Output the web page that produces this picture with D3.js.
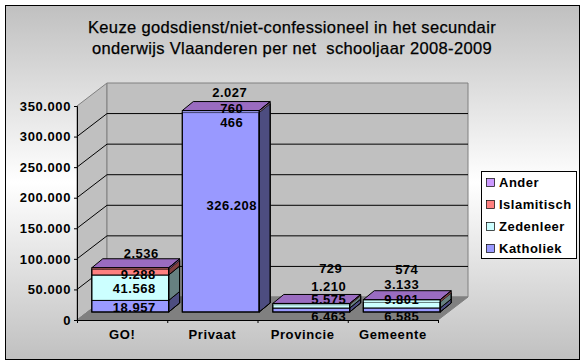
<!DOCTYPE html>
<html>
<head>
<meta charset="utf-8">
<script src="https://cdn.jsdelivr.net/npm/d3@7"></script>
<style>
  html, body { margin: 0; padding: 0; background: #fff; }
  svg { display: block; }
  text { font-family: "Liberation Sans", Arial, sans-serif; font-weight: bold; fill: #000; }
</style>
</head>
<body>
<svg width="585" height="364"></svg>
<script>
var titleLines = ["Keuze godsdienst/niet-confessioneel in het secundair", "onderwijs Vlaanderen per net  schooljaar 2008-2009"];
var categories = ["GO!", "Privaat", "Provincie", "Gemeente"];
var seriesNames = ["Katholiek", "Zedenleer", "Islamitisch", "Ander"];
var katholiek = [18957, 326208, 6463, 6585];
var zedenleer = [41568, 466, 5575, 9801];
var islamitisch = [9288, 760, 1210, 3133];
var ander = [2536, 2027, 729, 574];
var yTicks = [0, 50000, 100000, 150000, 200000, 250000, 300000, 350000];

var seriesValues = [katholiek, zedenleer, islamitisch, ander];
var faceColors = ["#9999ff", "#ccffff", "#ff8080", "#cc99ff"];
var sideColors = ["#4d4d80", "#668080", "#804040", "#664d80"];
var topColor = "#9a6cc0";

// manual label nudges, one row per series, like the hand moved labels in the original
var labelShift = [
  [[4, 1], [11, -7], [17.5, 6], [0, 6]],
  [[4, 1], [11, 10], [17.5, -7], [0, -6]],
  [[8, 2], [11, -4], [17.5, -18], [0, -17]],
  [[11, -15], [9, -19], [19.5, -35], [5, -31]]
];

var svg = d3.select("svg");

var defs = svg.append("defs");
var grad = defs.append("linearGradient").attr("id", "bg").attr("x1", 0).attr("y1", 0).attr("x2", 0).attr("y2", 1);
grad.append("stop").attr("offset", "0").attr("stop-color", "#c0c0c0");
grad.append("stop").attr("offset", "0.5").attr("stop-color", "#ffffff");
grad.append("stop").attr("offset", "1").attr("stop-color", "#c0c0c0");

svg.append("rect").attr("x", 5.5).attr("y", 5.5).attr("width", 574).attr("height", 354)
  .attr("fill", "url(#bg)").attr("stroke", "#000");

titleLines.forEach(function(t, i) {
  svg.append("text").attr("x", 292).attr("y", 33 + i * 21).attr("text-anchor", "middle").attr("xml:space", "preserve")
    .style("white-space", "pre")
    .style("font-size", "16.5px").style("font-weight", "normal").style("letter-spacing", "0.35px")
    .style("stroke", "#000").style("stroke-width", 0.25).text(t);
});

var plotLeft = 77, plotRight = 438;
var wallDx = 30, wallDy = -23;   // depth of the 3d box
var barDx = 11, barDy = -9;      // depth of a bar
var barLift = 8, barShift = 8;   // bars stand in the middle of the floor

var y = d3.scaleLinear().domain([0, 350000]).range([320, 106]);
var xAxisScale = d3.scaleBand().domain(categories).range([plotLeft, plotRight]);
var xBar = d3.scaleBand().domain(categories).range([plotLeft + barShift, plotRight + barShift + 1])
  .paddingInner(0.15).paddingOuter(0.075);
var xBorders = d3.scaleLinear().domain([0, categories.length]).range([plotLeft, plotRight]);

var nl = d3.formatLocale({decimal: ",", thousands: ".", grouping: [3]});
var fmt = nl.format(",.0f");

function pts(a) { return a.map(function(p) { return p.join(","); }).join(" "); }

// walls and floor
var yTop = y(350000), yBottom = y(0);
svg.append("polygon").attr("fill", "#c0c0c0").attr("stroke", "#808080")
  .attr("points", pts([[plotLeft, yTop], [plotLeft + wallDx, yTop + wallDy], [plotLeft + wallDx, yBottom + wallDy], [plotLeft, yBottom]]));
svg.append("polygon").attr("fill", "#c0c0c0").attr("stroke", "#808080")
  .attr("points", pts([[plotLeft + wallDx, yTop + wallDy], [plotRight + wallDx, yTop + wallDy], [plotRight + wallDx, yBottom + wallDy], [plotLeft + wallDx, yBottom + wallDy]]));
svg.append("polygon").attr("fill", "#808080").attr("stroke", "#808080")
  .attr("points", pts([[plotLeft, yBottom], [plotLeft + wallDx, yBottom + wallDy], [plotRight + wallDx, yBottom + wallDy], [plotRight, yBottom]]));

// gridlines
yTicks.slice(1, -1).forEach(function(v) {
  svg.append("polyline").attr("fill", "none").attr("stroke", "#000")
    .attr("points", pts([[plotLeft, y(v)], [plotLeft + wallDx, y(v) + wallDy], [plotRight + wallDx, y(v) + wallDy]]));
});

// bars, one stack per category. segments under 2px get no outline and keep the
// front colour of the segment below, in the original they vanish on the front
categories.forEach(function(c, ci) {
  var base = 0;
  var x0 = xBar(c), x1 = x0 + xBar.bandwidth();
  var stackBottom = y(0) - barLift;
  var lastFace = faceColors[0];
  seriesValues.forEach(function(vals, si) {
    var yb = y(base) - barLift, yt = y(base + vals[ci]) - barLift;
    var thin = yb - yt < 2;
    if (!thin) lastFace = faceColors[si];
    var g = svg.append("g");
    if (!thin) g.attr("stroke", "#000");
    g.append("rect").attr("x", x0).attr("y", yt).attr("width", x1 - x0).attr("height", yb - yt).attr("fill", lastFace);
    g.append("polygon").attr("fill", sideColors[si])
      .attr("points", pts([[x1, yb], [x1 + barDx, yb + barDy], [x1 + barDx, yt + barDy], [x1, yt]]));
    base += vals[ci];
  });
  var stackTop = y(base) - barLift;
  svg.append("polygon").attr("fill", topColor).attr("stroke", "#000")
    .attr("points", pts([[x0, stackTop], [x0 + barDx, stackTop + barDy], [x1 + barDx, stackTop + barDy], [x1, stackTop]]));
  svg.append("rect").attr("x", x0).attr("y", stackTop).attr("width", x1 - x0).attr("height", stackBottom - stackTop)
    .attr("fill", "none").attr("stroke", "#000");
  svg.append("polygon").attr("fill", "none").attr("stroke", "#000")
    .attr("points", pts([[x1, stackBottom], [x1 + barDx, stackBottom + barDy], [x1 + barDx, stackTop + barDy], [x1, stackTop]]));
});

// axes
var yAxis = d3.axisLeft(y).tickValues(yTicks).tickFormat(fmt).tickSize(3).tickPadding(3);
var yG = svg.append("g").attr("transform", "translate(" + plotLeft + ",0)").call(yAxis);
yG.selectAll("text").style("font-size", "13px").style("letter-spacing", "0.6px").style("font-family", '"Liberation Sans", Arial, sans-serif');

var borderAxis = d3.axisBottom(xBorders).tickValues(d3.range(categories.length + 1)).tickFormat("").tickSize(3);
svg.append("g").attr("transform", "translate(0," + yBottom + ")").call(borderAxis);

var xAxis = d3.axisBottom(xAxisScale).tickSize(0).tickPadding(10);
var xG = svg.append("g").attr("transform", "translate(0," + yBottom + ")").call(xAxis);
xG.select(".domain").remove();
xG.selectAll("text").style("font-size", "13px").style("letter-spacing", "0.6px").style("font-family", '"Liberation Sans", Arial, sans-serif');

// data labels
categories.forEach(function(c, ci) {
  var base = 0;
  seriesValues.forEach(function(vals, si) {
    var mid = base + vals[ci] / 2;
    var s = labelShift[si][ci];
    svg.append("text").attr("x", xBar(c) + xBar.bandwidth() / 2 + s[0]).attr("y", y(mid) - barLift + s[1])
      .attr("text-anchor", "middle").attr("dy", "0.36em")
      .style("font-size", "13px").style("letter-spacing", "0.5px").text(fmt(vals[ci]));
    base += vals[ci];
  });
});

// legend, Ander on top
var legX = 481, legY = 171;
var legOrder = seriesNames.slice().reverse();
var legY2 = d3.scalePoint().domain(legOrder).range([legY + 11, legY + 77]);
svg.append("rect").attr("x", legX + 0.5).attr("y", legY + 0.5).attr("width", 95).attr("height", 87)
  .attr("fill", "#fff").attr("stroke", "#000");
legOrder.forEach(function(n) {
  var col = faceColors[seriesNames.indexOf(n)];
  svg.append("rect").attr("x", legX + 5.5).attr("y", legY2(n) - 3.5).attr("width", 8).attr("height", 8)
    .attr("fill", col).attr("stroke", "#000").attr("stroke-width", 0.7);
  svg.append("text").attr("x", legX + 18).attr("y", legY2(n)).attr("dy", "0.36em")
    .style("font-size", "13px").style("letter-spacing", "0.5px").text(n);
});
</script>
</body>
</html>
